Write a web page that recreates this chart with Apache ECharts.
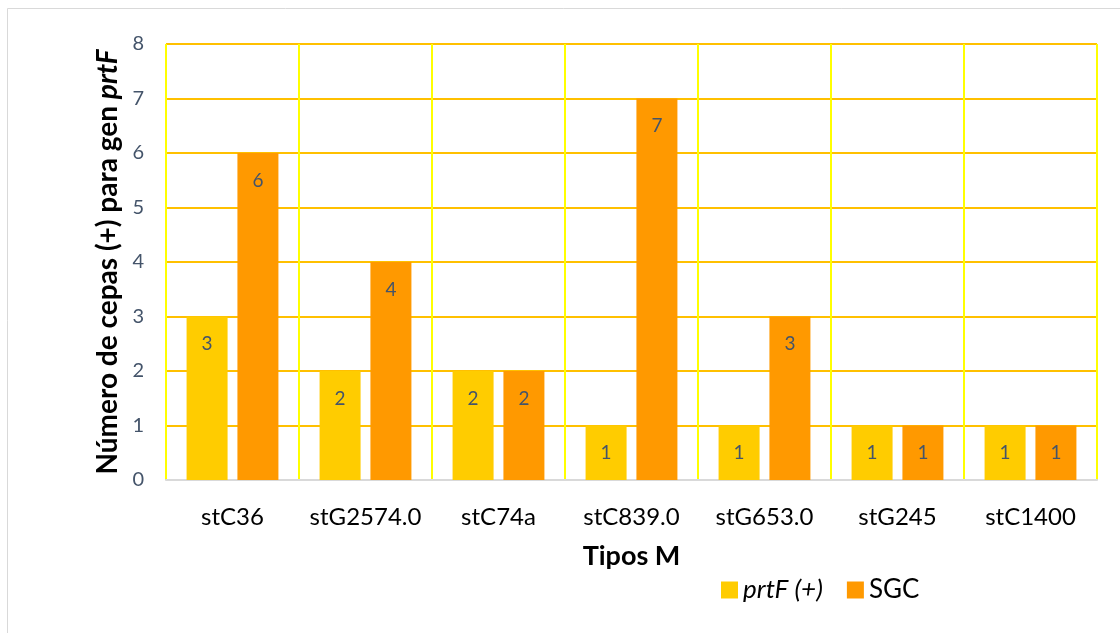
<!DOCTYPE html>
<html>
<head>
<meta charset="utf-8">
<script src="https://cdn.jsdelivr.net/npm/echarts@6/dist/echarts.min.js"></script>
<style>
  html, body { margin: 0; padding: 0; background: #fff; }
  #chart { width: 1120px; height: 633px; }
</style>
</head>
<body>
<div id="chart"></div>
<script>
// Tipos M and number of strains per group
const categories = ['stC36', 'stG2574.0', 'stC74a', 'stC839.0', 'stG653.0', 'stG245', 'stC1400'];
const prtF = [3, 2, 2, 1, 1, 1, 1];
const sgc = [6, 4, 2, 7, 3, 1, 1];
const yTicks = [0, 1, 2, 3, 4, 5, 6, 7, 8];

const FONT = 'Lato, "Open Sans", sans-serif';
const TICK_COLOR = '#44546A';

const chart = echarts.init(document.getElementById('chart'), null, { renderer: 'canvas' });

const labelOpt = {
  show: true,
  position: 'insideTop',
  distance: 18,
  color: TICK_COLOR,
  fontFamily: FONT,
  fontSize: 19
};

chart.setOption({
  animation: false,
  backgroundColor: '#ffffff',
  textStyle: { fontFamily: FONT },
  graphic: [
    { type: 'line', shape: { x1: 7.5, y1: 8.5, x2: 1120, y2: 8.5 }, style: { stroke: '#D9D9D9', lineWidth: 1 } },
    { type: 'line', shape: { x1: 7.5, y1: 8.5, x2: 7.5, y2: 633 }, style: { stroke: '#D9D9D9', lineWidth: 1 } }
  ],
  grid: { left: 166, right: 23, top: 44, bottom: 153, containLabel: false },
  legend: {
    top: 572,
    left: 716,
    itemWidth: 17,
    itemHeight: 17,
    itemGap: 24,
    icon: 'rect',
    textStyle: { fontFamily: FONT, fontSize: 26, color: '#000' },
    data: [
      { name: 'prtF (+)', textStyle: { fontStyle: 'italic' } },
      { name: 'SGC' }
    ]
  },
  xAxis: {
    type: 'category',
    data: categories,
    name: 'Tipos M',
    nameLocation: 'middle',
    nameGap: 63,
    nameTextStyle: { fontFamily: FONT, fontSize: 27, fontWeight: 'bold', color: '#000' },
    axisLine: { show: true, lineStyle: { color: '#D9D9D9', width: 2 } },
    axisTick: { show: false, interval: 0 },
    axisLabel: { interval: 0, fontFamily: FONT, fontSize: 24, color: '#000', margin: 25 },
    splitLine: { show: true, interval: 0, lineStyle: { color: '#FFFF00', width: 2 } }
  },
  yAxis: {
    type: 'value',
    min: yTicks[0],
    max: yTicks[yTicks.length - 1],
    interval: 1,
    name: '{b|Número de cepas (+) para gen }{bi|prtF}',
    nameLocation: 'middle',
    nameRotate: 90,
    nameGap: 43,
    nameTextStyle: {
      rich: {
        b: { fontFamily: FONT, fontSize: 28, fontWeight: 'bold', color: '#000' },
        bi: { fontFamily: FONT, fontSize: 28, fontWeight: 'bold', fontStyle: 'italic', color: '#000' }
      }
    },
    axisLine: { show: false },
    axisTick: { show: false },
    axisLabel: { fontFamily: FONT, fontSize: 20, color: TICK_COLOR, margin: 22 },
    splitLine: { show: true, lineStyle: { color: '#FFC000', width: 2 } }
  },
  series: [
    {
      name: 'prtF (+)',
      type: 'bar',
      data: prtF,
      barWidth: 41,
      barGap: '24%',
      itemStyle: { color: '#FFCC00' },
      label: labelOpt
    },
    {
      name: 'SGC',
      type: 'bar',
      data: sgc,
      barWidth: 41,
      barGap: '24%',
      itemStyle: { color: '#FF9900' },
      label: labelOpt
    }
  ]
});
</script>
</body>
</html>
